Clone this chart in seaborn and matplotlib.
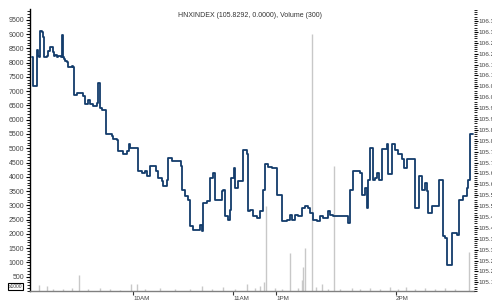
# %% Import packages

import numpy as np
import pandas as pd
import seaborn as sns
import matplotlib
matplotlib.use('Agg')
import matplotlib.pyplot as plt
from matplotlib.ticker import MultipleLocator, FormatStrFormatter

# %% Data (x = trade sequence index)

price_tick = [2, 3, 6, 7, 8, 9, 10, 12, 13, 14, 17, 18, 20, 22, 23, 24, 25, 27, 28, 31,
              32, 33, 34, 35, 37, 38, 40, 42, 43, 44, 47, 52, 53, 55, 58, 60, 63, 67, 68, 70,
              72, 75, 76, 78, 82, 83, 87, 88, 93, 97, 99, 100, 107, 108, 112, 115, 117, 120, 125, 126,
              128, 132, 133, 137, 138, 142, 150, 151, 152, 155, 158, 160, 163, 168, 170, 172, 173, 177, 180, 183,
              185, 188, 192, 193, 195, 198, 200, 201, 204, 205, 208, 212, 213, 217, 218, 220, 223, 227, 230, 233,
              235, 238, 242, 246, 247, 250, 252, 257, 260, 262, 265, 268, 272, 275, 278, 280, 283, 287, 290, 293,
              298, 300, 303, 315, 318, 320, 323, 330, 332, 335, 337, 338, 340, 343, 345, 347, 349, 352, 357, 358,
              361, 362, 365, 368, 372, 374, 377, 383, 385, 389, 392, 395, 397, 398, 402, 408, 409, 411, 413, 415,
              417, 419, 422, 425, 427, 429, 433, 437, 438, 440, 443]
price = [106.183, 106.052, 106.052, 106.216, 106.190, 106.183, 106.303, 106.298, 106.275, 106.183,
         106.190, 106.213, 106.232, 106.229, 106.206, 106.190, 106.195, 106.183, 106.187, 106.183,
         106.285, 106.183, 106.175, 106.167, 106.160, 106.137, 106.139, 106.144, 106.137, 106.010,
         106.021, 106.021, 106.006, 105.968, 105.986, 105.968, 105.960, 105.975, 106.063, 105.952,
         105.940, 105.940, 105.829, 105.832, 105.821, 105.806, 105.802, 105.752, 105.737, 105.752,
         105.786, 105.765, 105.765, 105.660, 105.653, 105.663, 105.637, 105.683, 105.683, 105.660,
         105.630, 105.614, 105.591, 105.622, 105.722, 105.706, 105.706, 105.683, 105.576, 105.545,
         105.530, 105.407, 105.392, 105.392, 105.415, 105.384, 105.515, 105.522, 105.630, 105.653,
         105.530, 105.530, 105.568, 105.576, 105.453, 105.438, 105.484, 105.630, 105.676, 105.584,
         105.614, 105.617, 105.756, 105.737, 105.476, 105.484, 105.453, 105.445, 105.476, 105.576,
         105.691, 105.680, 105.676, 105.676, 105.553, 105.553, 105.430, 105.438, 105.461, 105.438,
         105.461, 105.453, 105.492, 105.499, 105.492, 105.468, 105.438, 105.430, 105.453, 105.445,
         105.476, 105.461, 105.453, 105.453, 105.422, 105.576, 105.660, 105.653, 105.553, 105.584,
         105.492, 105.622, 105.768, 105.622, 105.630, 105.653, 105.622, 105.760, 105.783, 105.645,
         105.645, 105.783, 105.756, 105.737, 105.714, 105.676, 105.714, 105.714, 105.492, 105.637,
         105.576, 105.607, 105.568, 105.468, 105.499, 105.499, 105.622, 105.622, 105.361, 105.353,
         105.230, 105.230, 105.376, 105.376, 105.368, 105.530, 105.545, 105.584, 105.622, 105.829,
         105.829]

vol_tick = [9, 17, 23, 33, 42, 49, 58, 70, 80, 90, 101, 107, 115, 130, 145, 160, 172, 182, 193, 205,
            217, 225, 230, 234, 236, 245, 252, 260, 268, 272, 273, 275, 282, 286, 292, 298, 304, 310, 322, 330,
            340, 350, 360, 368, 376, 385, 395, 405, 415, 425, 439]
volume = [210, 160, 60, 70, 90, 560, 60, 110, 60, 50, 250, 260, 80, 120, 60, 80, 170, 60, 140, 70,
          250, 110, 160, 300, 2960, 90, 60, 1330, 100, 400, 830, 1500, 9000, 150, 250, 80, 4390, 70, 120, 60,
          90, 60, 150, 80, 140, 60, 110, 70, 90, 60, 1350]

time_ticks = [103, 203, 246, 366]
time_labels = ['10AM', '11AM', '1PM', '2PM']

title = 'HNXINDEX (105.8292, 0.0000), Volume (300)'

# %% Set figure aesthetics

sns.set_theme(style='white')
plt.rcParams['font.family'] = ['Liberation Sans', 'DejaVu Sans']
TEXT = '#444444'

fig = plt.figure(figsize=(4.92, 3.0), dpi=100)
ax = fig.add_axes([30 / 492, 9 / 300, 444 / 492, 282 / 300])
ax2 = ax.twinx()

# %% Volume bars (left axis, x1000)

ax.vlines(vol_tick, 0, volume, color='#c8c8c8', lw=1)
ax.set_ylim(0, 9877)
ax.set_yticks(np.arange(500, 10000, 500))
ax.yaxis.set_minor_locator(MultipleLocator(100))
ax.tick_params(axis='y', which='major', length=3, width=0.8, color='black',
               labelsize=5, labelcolor=TEXT, pad=1, left=True)
ax.tick_params(axis='y', which='minor', length=2, width=0.6, color='black', left=True)
ax.set_xlim(0, 444)
ax.set_xticks(time_ticks)
ax.set_xticklabels(time_labels, ha='left')
ax.tick_params(axis='x', length=3, width=0.8, color='#333333', labelsize=4.5,
               labelcolor=TEXT, pad=0.5, bottom=True)
for lab in ax.get_xticklabels():
    lab.set_horizontalalignment('left')
for s in ['top', 'right']:
    ax.spines[s].set_visible(False)
ax.spines['left'].set_color('black')
ax.spines['left'].set_linewidth(1)
ax.spines['bottom'].set_color('#808080')
ax.spines['bottom'].set_linewidth(1)

# %% Price line (right axis)

price_df = pd.DataFrame({'tick': price_tick, 'price': price})
sns.lineplot(data=price_df, x='tick', y='price', ax=ax2, estimator=None,
             drawstyle='steps-post', color='#133c6b', lw=1.3)
ax2.set_ylim(105.11, 106.405)
ax2.set_yticks(np.arange(105.15, 106.36, 0.05))
ax2.yaxis.set_major_formatter(FormatStrFormatter('%.2f'))
ax2.yaxis.set_minor_locator(MultipleLocator(0.01))
ax2.tick_params(axis='y', which='major', length=3, width=0.8, color='black',
                labelsize=4.6, labelcolor=TEXT, pad=0.5, right=True)
ax2.tick_params(axis='y', which='minor', length=2, width=0.6, color='black', right=True)
ax2.set_xlabel('')
ax2.set_ylabel('')
ax.set_ylabel('')
for s in ax2.spines.values():
    s.set_visible(False)

ax.text(0.495, 0.976, title, transform=ax.transAxes, ha='center', va='center',
        fontsize=5, color='#333333')

fig.text(15.5 / 492, 1 - 286.5 / 300, 'x1000', ha='center', va='center', fontsize=3.5,
         color='#333333',
         bbox=dict(boxstyle='square,pad=0.25', fc='white', ec='black', lw=0.8))

plt.savefig('out.png', dpi=100)
